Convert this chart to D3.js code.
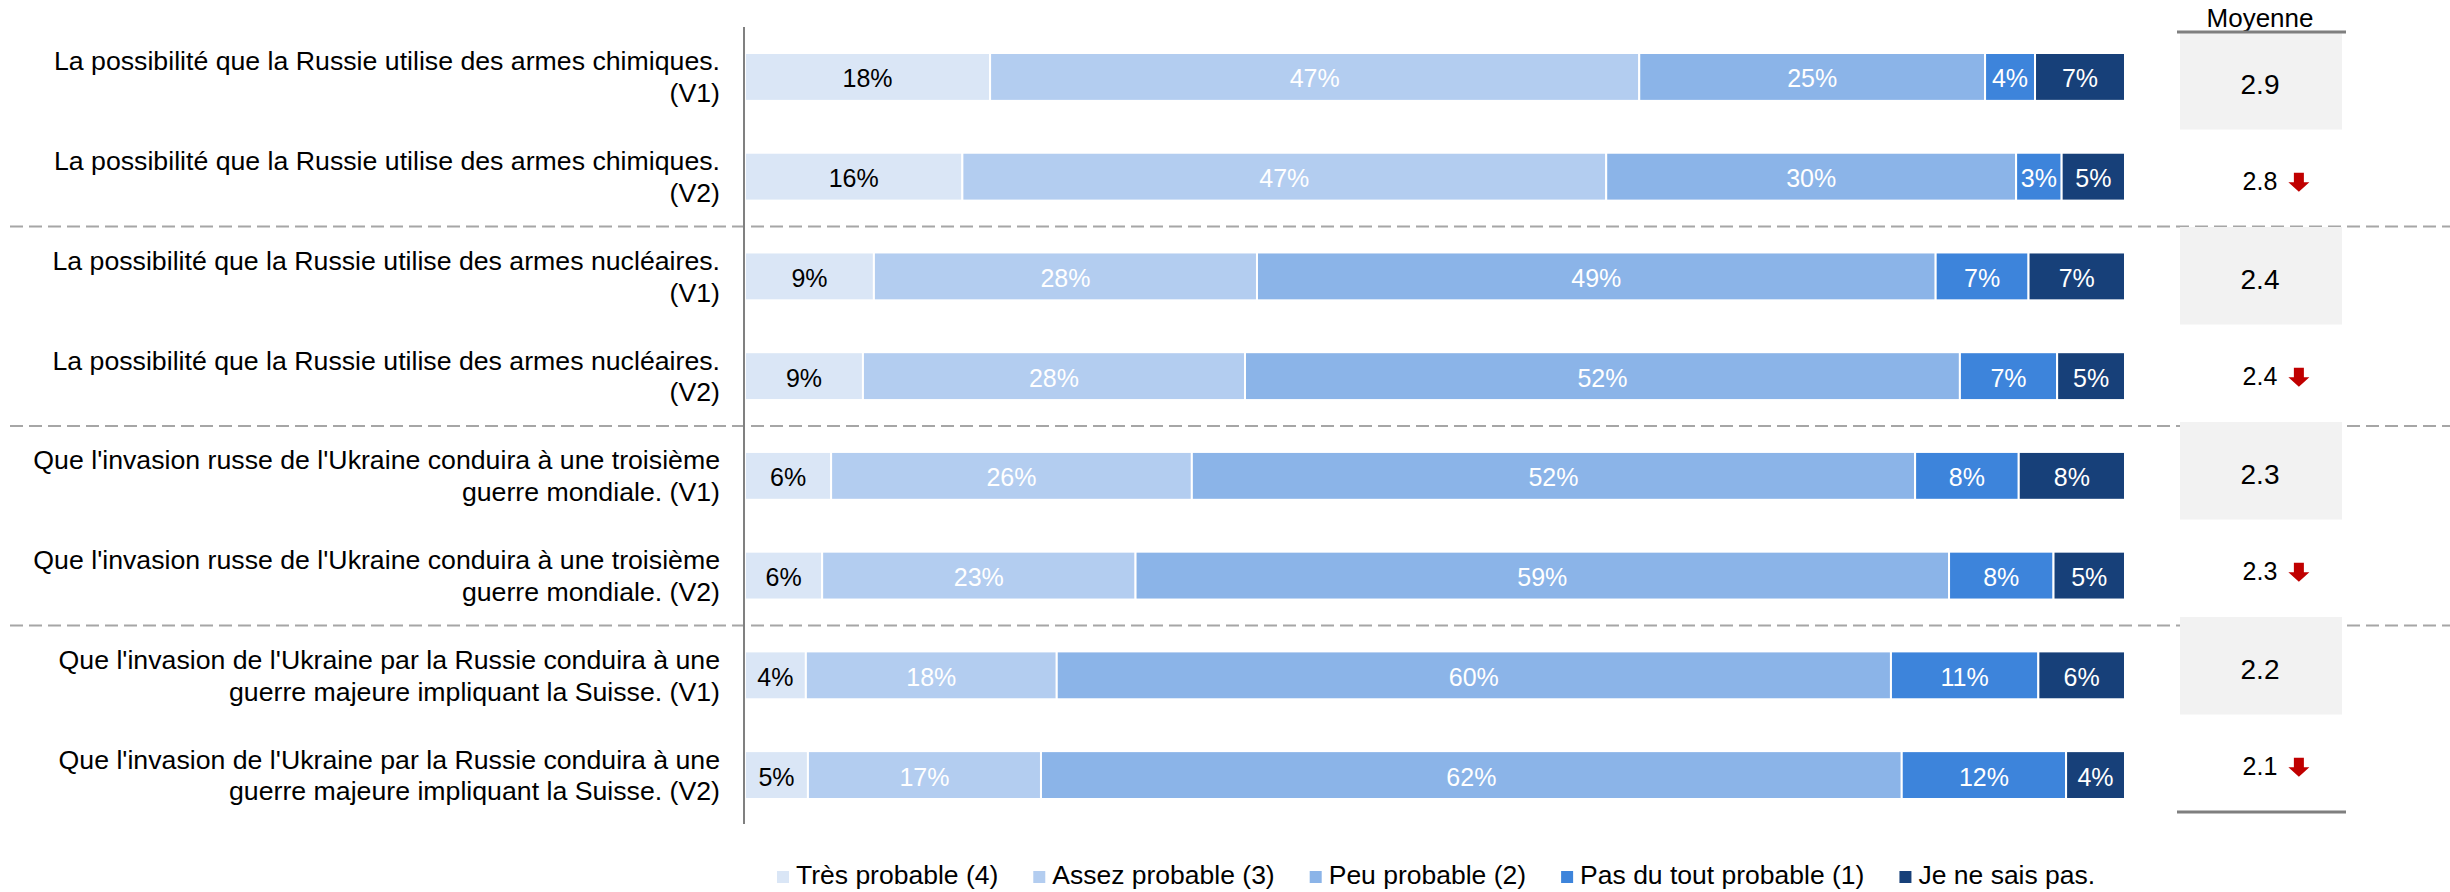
<!DOCTYPE html>
<html>
<head>
<meta charset="utf-8">
<script src="https://cdn.jsdelivr.net/npm/d3@7"></script>
<style>
  html, body { margin: 0; padding: 0; background: #fff; }
  svg { display: block; font-family: "Liberation Sans", Arial, sans-serif; }
</style>
</head>
<body>
<svg id="chart" width="2450" height="892"></svg>
<script>
// ---------- DATA ----------
const categoryLine1 = [
  "La possibilité que la Russie utilise des armes chimiques.",
  "La possibilité que la Russie utilise des armes chimiques.",
  "La possibilité que la Russie utilise des armes nucléaires.",
  "La possibilité que la Russie utilise des armes nucléaires.",
  "Que l'invasion russe de l'Ukraine conduira à une troisième",
  "Que l'invasion russe de l'Ukraine conduira à une troisième",
  "Que l'invasion de l'Ukraine par la Russie conduira à une",
  "Que l'invasion de l'Ukraine par la Russie conduira à une"
];
const categoryLine2 = [
  "(V1)",
  "(V2)",
  "(V1)",
  "(V2)",
  "guerre mondiale. (V1)",
  "guerre mondiale. (V2)",
  "guerre majeure impliquant la Suisse. (V1)",
  "guerre majeure impliquant la Suisse. (V2)"
];
const seriesNames = ["Très probable (4)", "Assez probable (3)", "Peu probable (2)", "Pas du tout probable (1)", "Je ne sais pas."];
// shares (%); labels are the rounded values
const tresProbable   = [17.76, 15.75, 9.34, 8.55, 6.24, 5.59, 4.41, 4.56];
const assezProbable  = [47.04, 46.65, 27.76, 27.70, 26.14, 22.71, 18.18, 16.89];
const peuProbable    = [25.06, 29.70, 49.18, 51.83, 52.41, 58.95, 60.45, 62.38];
const pasDuTout      = [3.62, 3.30, 6.73, 7.05, 7.51, 7.57, 10.68, 11.91];
const neSaisPas      = [6.52, 4.59, 6.99, 4.92, 7.70, 5.18, 6.28, 4.27];
const moyenne        = [2.9, 2.8, 2.4, 2.4, 2.3, 2.3, 2.2, 2.1];
const tendance       = ["", "down", "", "down", "", "down", "", "down"];
const groupBreaks    = [1, 3, 5]; // dashed separator after these row indices

// ---------- STYLE ----------
const colors = ["#dae6f6", "#b3cdf0", "#8bb4e8", "#3d84db", "#174079"];
const textColors = ["#000000", "#ffffff", "#ffffff", "#ffffff", "#ffffff"];
const FONT = "'Liberation Sans', Arial, sans-serif";

const svg = d3.select("#chart");

const rows = categoryLine1.map((c, i) => ({
  idx: i,
  l1: c, l2: categoryLine2[i],
  s0: tresProbable[i], s1: assezProbable[i], s2: peuProbable[i], s3: pasDuTout[i], s4: neSaisPas[i]
}));
const keys = ["s0", "s1", "s2", "s3", "s4"];

const stack = d3.stack().keys(keys).offset(d3.stackOffsetExpand);
const stacked = stack(rows);

// scales
const x = d3.scaleLinear().domain([0, 1]).range([745, 2125]);
const y = d3.scaleBand().domain(d3.range(rows.length)).range([27, 825])
  .paddingInner(0.52).paddingOuter(0.2607);
const bw = y.bandwidth();
const yc = i => y(i) + bw / 2;

// table scale (Moyenne column)
const yt = d3.scaleBand().domain(d3.range(rows.length)).range([32, 812]);
const tableX0 = 2177, tableX1 = 2346, boxX0 = 2180, boxX1 = 2342;
const tableCx = 2260;

// dashed separators
svg.append("g").selectAll("line").data(groupBreaks).join("line")
  .attr("x1", 10).attr("x2", 2450)
  .attr("y1", d => (yc(d) + yc(d + 1)) / 2)
  .attr("y2", d => (yc(d) + yc(d + 1)) / 2)
  .attr("stroke", "#a6a6a6").attr("stroke-width", 2)
  .attr("stroke-dasharray", "13,6");

// gray boxes for V1 rows
svg.append("g").selectAll("rect").data(rows.filter((r, i) => i % 2 === 0)).join("rect")
  .attr("x", boxX0).attr("width", boxX1 - boxX0)
  .attr("y", d => yt(d.idx)).attr("height", yt.bandwidth())
  .attr("fill", "#f2f2f2");

// bars
const layers = svg.append("g").selectAll("g").data(stacked).join("g")
  .attr("fill", (d, i) => colors[i]);
layers.selectAll("rect").data(d => d.map(v => ({ v, key: d.key, k: d.index }))).join("rect")
  .attr("x", d => x(d.v[0]))
  .attr("width", d => x(d.v[1]) - x(d.v[0]))
  .attr("y", (d, i) => y(i))
  .attr("height", bw)
  .attr("stroke", "#ffffff").attr("stroke-width", 2);

// bar labels
layers.selectAll("text").data(d => d.map(v => ({ v, key: d.key, k: d.index }))).join("text")
  .attr("x", d => (x(d.v[0]) + x(d.v[1])) / 2)
  .attr("y", (d, i) => yc(i) + 10.5)
  .attr("text-anchor", "middle")
  .attr("font-size", 25)
  .attr("font-family", FONT)
  .attr("fill", d => textColors[d.k])
  .text(d => Math.round(d.v.data[d.key]) + "%");

// vertical axis line
svg.append("line")
  .attr("x1", 744).attr("x2", 744).attr("y1", 27).attr("y2", 824)
  .attr("stroke", "#808080").attr("stroke-width", 2);

// category labels
const catG = svg.append("g").selectAll("text").data(rows).join("text")
  .attr("text-anchor", "end")
  .attr("font-size", 26.7)
  .attr("font-family", FONT)
  .attr("fill", "#000");
catG.append("tspan").attr("x", 720).attr("y", d => yc(d.idx) - 6.5).text(d => d.l1);
catG.append("tspan").attr("x", 720).attr("y", d => yc(d.idx) + 25.2).text(d => d.l2);

// Moyenne header
svg.append("text")
  .attr("x", tableCx).attr("y", 27)
  .attr("text-anchor", "middle").attr("font-size", 26).attr("font-family", FONT)
  .attr("fill", "#000").text("Moyenne");
svg.append("line").attr("x1", tableX0).attr("x2", tableX1).attr("y1", 32).attr("y2", 32)
  .attr("stroke", "#7f7f7f").attr("stroke-width", 3);
svg.append("line").attr("x1", tableX0).attr("x2", tableX1).attr("y1", 812).attr("y2", 812)
  .attr("stroke", "#7f7f7f").attr("stroke-width", 3);

// Moyenne values
const valFs = i => (i % 2 === 0 ? 28 : 25);
svg.append("g").selectAll("text").data(rows).join("text")
  .attr("x", tableCx)
  .attr("y", d => yt(d.idx) + yt.bandwidth() / 2 + 3 + 0.358 * valFs(d.idx))
  .attr("text-anchor", "middle")
  .attr("font-size", d => valFs(d.idx))
  .attr("font-family", FONT)
  .attr("fill", "#000")
  .text(d => moyenne[d.idx].toFixed(1));

// trend arrows
const arrowPath = "M-5,-9.5 L5,-9.5 L5,0 L10.5,0 L0,9.5 L-10.5,0 L-5,0 Z";
svg.append("g").selectAll("path").data(rows.filter(r => tendance[r.idx] === "down")).join("path")
  .attr("d", arrowPath)
  .attr("fill", "#c00000")
  .attr("transform", d => {
    const tw = 1.39 * valFs(d.idx);
    const cx = tableCx + tw / 2 + 11 + 10.5;
    const cy = yt(d.idx) + yt.bandwidth() / 2 + 4;
    return `translate(${cx},${cy})`;
  });

// legend
const leg = svg.append("g");
let lx = 777;
seriesNames.forEach((name, i) => {
  leg.append("rect").attr("x", lx).attr("y", 871).attr("width", 12).attr("height", 12)
    .attr("fill", colors[i]);
  const t = leg.append("text").attr("x", lx + 19).attr("y", 884)
    .attr("font-size", 26.5).attr("font-family", FONT).attr("fill", "#000").text(name);
  const w = t.node().getComputedTextLength();
  lx = lx + 19 + w + 35;
});
</script>
</body>
</html>
